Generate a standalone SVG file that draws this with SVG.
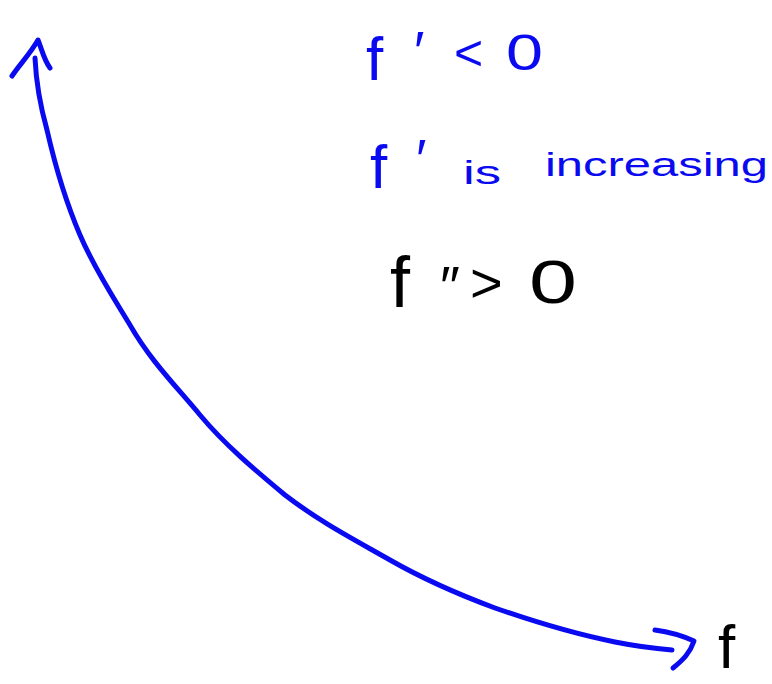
<svg xmlns="http://www.w3.org/2000/svg" width="772" height="684" viewBox="0 0 772 684">
<style>
.ink{fill:none;stroke-linecap:round;stroke-linejoin:round;stroke-width:5}
.blue{stroke:#0a0af0}
.t{font-family:"Liberation Sans","DejaVu Sans",sans-serif}
.tb{fill:#0a0af0}
.tk{fill:#000}
</style>
<rect width="772" height="684" fill="#fff"/>
<g id="connectors">
<path class="ink blue" d="M35,58 C36,80 40,105 47,130 C55,165 65,200 80,235 C95,270 115,300 130,325 C150,360 175,385 200,415 C225,445 255,470 285,495 C320,522 355,540 390,560 C425,580 460,595 495,608 C535,622 575,634 615,642 C640,647 660,649 672,650"/>
<path class="ink blue" d="M12,76 C20,64 30,54 38,40 C42,50 44,60 50,68"/>
<path class="ink blue" d="M655,630 C670,632 683,636 694,641 C690,653 683,660 673,668"/>
</g>
<g id="label-fprime-lt0" class="t tb">
<text x="366" y="80" font-size="62">f</text>
<text x="414" y="70" font-size="56">′</text>
<text x="454" y="70" font-size="50">&lt;</text>
<text x="506" y="70" font-size="50" textLength="37" lengthAdjust="spacingAndGlyphs">0</text>
</g>
<g id="label-fprime-increasing" class="t tb">
<text x="370" y="188" font-size="62">f</text>
<text x="416" y="178" font-size="56">′</text>
<text x="463" y="184" font-size="34" textLength="38" lengthAdjust="spacingAndGlyphs">is</text>
<text x="545" y="176" font-size="34" textLength="223" lengthAdjust="spacingAndGlyphs">increasing</text>
</g>
<g id="label-fdoubleprime-gt0" class="t tk">
<text x="390" y="307" font-size="72">f</text>
<text x="440" y="305" font-size="56">″</text>
<text x="470" y="302" font-size="56">&gt;</text>
<text x="529" y="303" font-size="62" textLength="48" lengthAdjust="spacingAndGlyphs">0</text>
</g>
<g id="label-f" class="t tk">
<text x="718" y="668" font-size="62">f</text>
</g>
</svg>
